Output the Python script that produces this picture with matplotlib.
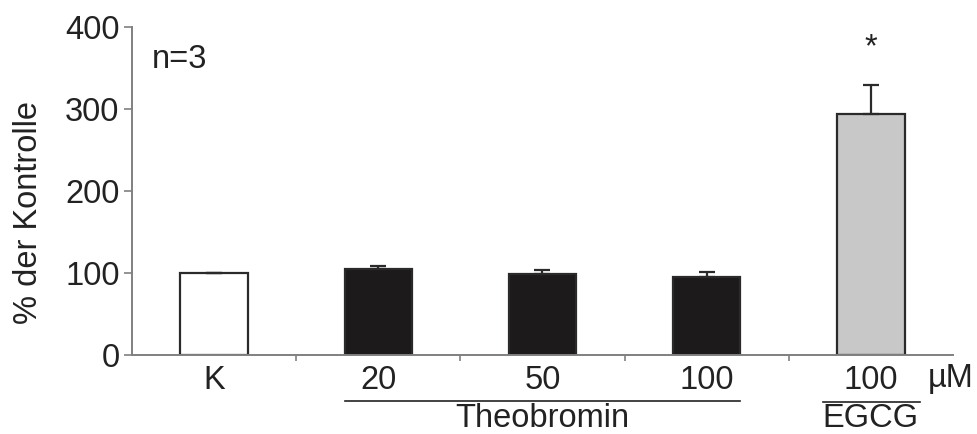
import matplotlib.pyplot as plt
import matplotlib.transforms as mtransforms

plt.rcParams['font.family'] = ['Liberation Sans', 'DejaVu Sans']

# data
groups = ["K", "20", "50", "100", "100"]
values = [100, 105, 98.5, 94.5, 294]
errors = [0.5, 3, 5, 6.5, 35]
colors = ["white", "#1c1a1a", "#1c1a1a", "#1c1a1a", "#c8c8c8"]
yticks = [0, 100, 200, 300, 400]

FS = 23.5
TXT = "#222222"

fig = plt.figure(figsize=(9.78, 4.34), dpi=100)
ax = fig.add_axes([0.135, 0.182, 0.8394, 0.756])

x = list(range(len(groups)))
ax.bar(x, values, width=0.41, color=colors, edgecolor="#2a2a2a", linewidth=1.6,
       zorder=2)
ax.errorbar(x, values, yerr=[[0] * len(errors), errors], fmt="none",
            ecolor="#2a2a2a", elinewidth=1.6, capsize=6, capthick=1.6, zorder=3)

ax.set_xlim(-0.5, 4.5)
ax.set_ylim(0, 400)
ax.set_yticks(yticks)
ax.set_xticks([0.5, 1.5, 2.5, 3.5])
ax.set_xticklabels([])
ax.tick_params(axis="y", labelsize=FS, length=6, width=1.2, color="#808080",
               colors=TXT, pad=3)
ax.tick_params(axis="x", length=4, width=1.2, color="#808080")
for s in ["top", "right"]:
    ax.spines[s].set_visible(False)
for s in ["left", "bottom"]:
    ax.spines[s].set_color("#808080")
    ax.spines[s].set_linewidth(1.4)

trans = mtransforms.blended_transform_factory(ax.transData, ax.transAxes)
for xi, g in zip(x, groups):
    ax.text(xi, -0.078, g, transform=trans, ha="center", va="center",
            fontsize=FS, color=TXT)
ax.text(4.485, -0.072, "µM", transform=trans, ha="center", va="center",
        fontsize=FS, color=TXT)

# group underlines
ax.plot([0.795, 3.205], [-0.14, -0.14], transform=trans, color=TXT,
        lw=1.2, clip_on=False)
ax.text(2.0, -0.193, "Theobromin", transform=trans, ha="center", va="center",
        fontsize=FS, color=TXT)
ax.plot([3.71, 4.30], [-0.143, -0.143], transform=trans, color=TXT,
        lw=1.2, clip_on=False)
ax.text(4.0, -0.193, "EGCG", transform=trans, ha="center", va="center",
        fontsize=FS, color=TXT)

ax.text(-0.38, 360, "n=3", ha="left", va="center", fontsize=FS, color=TXT)
ax.text(4, 375, "*", ha="center", va="center", fontsize=FS, color=TXT)

fig.text(0.029, 0.51, "% der Kontrolle", rotation=90, ha="center",
         va="center", fontsize=FS, color=TXT)

fig.savefig("out.png", dpi=100)
